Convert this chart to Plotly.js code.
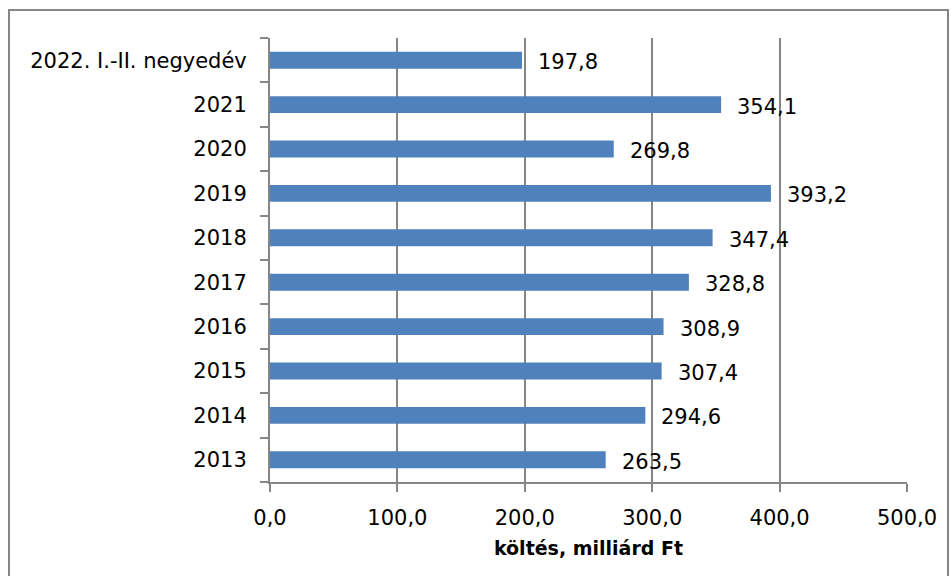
<!DOCTYPE html>
<html>
<head>
<meta charset="utf-8">
<script src="https://cdn.plot.ly/plotly-3.0.1.min.js"></script>
<style>html,body{margin:0;padding:0;background:#fff;}#chart{width:951px;height:576px;}</style>
</head>
<body>
<div id="chart"></div>
<script>
const categories = ["2013","2014","2015","2016","2017","2018","2019","2020","2021","2022. I.-II. negyedév"];
const values = [263.5, 294.6, 307.4, 308.9, 328.8, 347.4, 393.2, 269.8, 354.1, 197.8];
const xTicks = [0, 100, 200, 300, 400, 500];
const xTitle = "költés, milliárd Ft";

const fontFam = "'DejaVu Sans', sans-serif";
const grey = "#868686";
const fmt = v => v.toFixed(1).replace(".", ",");

const trace = {
  type: "bar",
  orientation: "h",
  x: values,
  y: categories,
  marker: {color: "#4F81BD"},
  width: 0.38,
  hoverinfo: "none"
};

// annotation y on a category axis = category serial number
const annotations = values.map((v, i) => ({
  x: v, y: categories.indexOf(categories[i]), xref: "x", yref: "y",
  text: fmt(v),
  showarrow: false, xanchor: "left", yanchor: "middle",
  xshift: 14, yshift: -2,
  font: {family: fontFam, size: 21, color: "#000"}
}));

const layout = {
  width: 951, height: 576,
  margin: {l: 270, r: 44, t: 38, b: 94},
  paper_bgcolor: "#fff", plot_bgcolor: "#fff",
  showlegend: false,
  font: {family: fontFam, size: 21, color: "#000"},
  xaxis: {
    range: [0, 500],
    tickvals: xTicks,
    ticktext: xTicks.map(fmt),
    showgrid: true, gridcolor: grey, gridwidth: 2,
    zeroline: false,
    showline: true, linecolor: grey, linewidth: 2,
    ticks: "outside", ticklen: 8, tickwidth: 2, tickcolor: grey,
    ticklabelstandoff: 8,
    tickfont: {family: fontFam, size: 21, color: "#000"},
    title: {text: xTitle, font: {family: fontFam, size: 19, color: "#000", weight: "bold"}, standoff: 12}
  },
  yaxis: {
    type: "category",
    categoryorder: "array", categoryarray: categories,
    range: [-0.5, categories.length - 0.5],
    showgrid: false, zeroline: false,
    showline: true, linecolor: grey, linewidth: 2,
    ticks: "outside", ticklen: 8, tickwidth: 2, tickcolor: grey,
    tickson: "boundaries",
    ticklabelstandoff: 17,
    tickfont: {family: fontFam, size: 21, color: "#000"}
  },
  annotations: annotations,
  shapes: [{
    type: "rect", xref: "paper", yref: "paper",
    x0: (9 - 270) / 637, x1: (948 - 270) / 637,
    y0: (482 - 590) / 444, y1: (482 - 10) / 444,
    line: {color: grey, width: 2}, fillcolor: "rgba(0,0,0,0)", layer: "below"
  }]
};

Plotly.newPlot("chart", [trace], layout, {displayModeBar: false});
</script>
</body>
</html>
